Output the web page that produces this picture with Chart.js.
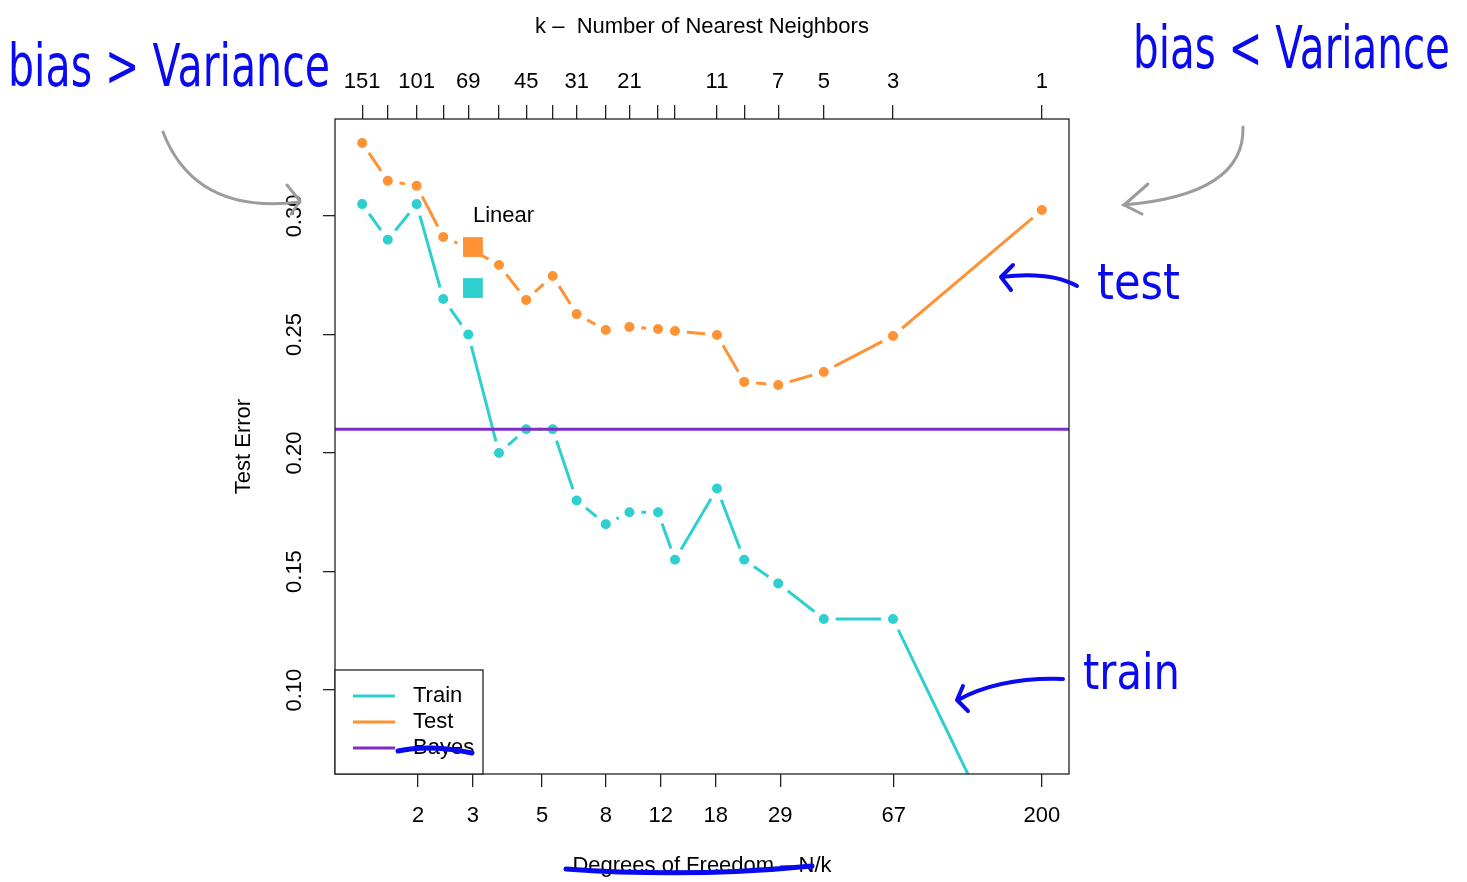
<!DOCTYPE html>
<html>
<head>
<meta charset="utf-8">
<script src="https://cdn.jsdelivr.net/npm/chart.js@4"></script>
<style>
  body { margin: 0; background: #fff; }
  canvas { display: block; }
</style>
</head>
<body>
<canvas id="knn-chart" width="1467" height="882"></canvas>
<script>
// k values used for the nearest neighbour fits (N = 200 training points)
let nTrain = 200;
let kAll = [151, 125, 101, 83, 69, 55, 45, 37, 31, 25, 21, 17, 15, 11, 9, 7, 5, 3, 1];
let kLabeled = [151, 101, 69, 45, 31, 21, 11, 7, 5, 3, 1];

let trainErr = [0.305, 0.29, 0.305, 0.265, 0.25, 0.2, 0.21, 0.21, 0.18, 0.17, 0.175, 0.175, 0.155, 0.185, 0.155, 0.145, 0.13, 0.13, 0];
let testErr = [0.3308, 0.3148, 0.3127, 0.2911, 0.2865, 0.2793, 0.2646, 0.2747, 0.2586, 0.2519, 0.2532, 0.2523, 0.2515, 0.2498, 0.23, 0.2287, 0.2342, 0.2494, 0.3025];

let bayesErr = 0.21;
let linearDof = 3;
let linearTest = 0.2869;
let linearTrain = 0.2696;

let dofTicks = [2, 3, 5, 8, 12, 18, 29, 67, 200];
let errTicks = [0.1, 0.15, 0.2, 0.25, 0.3];

let colors = {
  train: "#2dcfcf",
  test: "#ff9234",
  bayes: "#7e2ec4",
  ink: "#0a0aee",
  pencil: "#9c9c9c",
};

// R style axis range: data range plus 4% on each side (log scale)
let lo = Math.log(nTrain / kAll[0]);
let hi = Math.log(nTrain / kAll[kAll.length - 1]);
let xMin = Math.exp(lo - 0.04 * (hi - lo));
let xMax = Math.exp(hi + 0.04 * (hi - lo));
let yMin = 0.0646;
let yMax = 0.3409;

let font = { family: "Liberation Sans", size: 22 };

function toPoints(values) {
  return values.map((v, i) => ({ x: nTrain / kAll[i], y: v }));
}

function scribble(ctx, text, x, baseline, width, size) {
  ctx.save();
  ctx.font = size + 'px "DejaVu Sans"';
  let w = ctx.measureText(text).width;
  ctx.translate(x, baseline);
  ctx.scale(width / w, 1);
  ctx.fillStyle = colors.ink;
  ctx.textAlign = "left";
  ctx.textBaseline = "alphabetic";
  ctx.fillText(text, 0, 0);
  ctx.restore();
}

function stroke(ctx, color, width, draw) {
  ctx.save();
  ctx.strokeStyle = color;
  ctx.lineWidth = width;
  ctx.lineCap = "round";
  ctx.lineJoin = "round";
  ctx.beginPath();
  draw();
  ctx.stroke();
  ctx.restore();
}

let boxAndLabels = {
  id: "boxAndLabels",
  afterDatasetsDraw(chart) {
    let ctx = chart.ctx;
    let area = chart.chartArea;
    let xs = chart.scales.x;
    let ys = chart.scales.y;

    // plot box
    ctx.save();
    ctx.strokeStyle = "#222";
    ctx.lineWidth = 1.3;
    ctx.strokeRect(area.left, area.top, area.right - area.left, area.bottom - area.top);

    // rotated y tick labels
    ctx.fillStyle = "#000";
    ctx.font = "22px 'Liberation Sans'";
    ctx.textAlign = "center";
    ctx.textBaseline = "middle";
    errTicks.forEach((v) => {
      ctx.save();
      ctx.translate(295, ys.getPixelForValue(v));
      ctx.rotate(-Math.PI / 2);
      ctx.fillText(v.toFixed(2), 0, 0);
      ctx.restore();
    });

    // "Linear" label next to the squares
    ctx.textAlign = "left";
    ctx.fillText("Linear", xs.getPixelForValue(linearDof), ys.getPixelForValue(0.3));

    // legend
    let lx = area.left, ly = 670, lw = 148, lh = area.bottom - 670;
    ctx.fillStyle = "#fff";
    ctx.fillRect(lx, ly, lw, lh);
    ctx.strokeRect(lx, ly, lw, lh);
    let items = [
      ["Train", colors.train],
      ["Test", colors.test],
      ["Bayes", colors.bayes],
    ];
    items.forEach((it, i) => {
      let y = ly + 26 + i * 26;
      ctx.strokeStyle = it[1];
      ctx.lineWidth = 3;
      ctx.beginPath();
      ctx.moveTo(lx + 18, y);
      ctx.lineTo(lx + 60, y);
      ctx.stroke();
      ctx.fillStyle = "#000";
      ctx.fillText(it[0], lx + 78, y);
    });
    ctx.restore();
  },
  afterDraw(chart) {
    let ctx = chart.ctx;

    // handwritten notes
    scribble(ctx, "bias > Variance", 8, 86, 322, 58);
    scribble(ctx, "bias < Variance", 1133, 68, 317, 58);
    scribble(ctx, "test", 1097, 299, 83, 50);
    scribble(ctx, "train", 1083, 689, 97, 50);

    stroke(ctx, colors.ink, 4, () => {
      ctx.moveTo(1077, 286);
      ctx.quadraticCurveTo(1050, 271, 1001, 277);
      ctx.moveTo(1013, 265);
      ctx.lineTo(1001, 277);
      ctx.lineTo(1011, 290);
    });
    stroke(ctx, colors.ink, 4, () => {
      ctx.moveTo(1063, 679);
      ctx.quadraticCurveTo(1000, 677, 958, 700);
      ctx.moveTo(963, 686);
      ctx.lineTo(957, 700);
      ctx.lineTo(968, 711);
    });
    stroke(ctx, colors.pencil, 3, () => {
      ctx.moveTo(163, 132);
      ctx.quadraticCurveTo(195, 215, 300, 202);
      ctx.moveTo(287, 185);
      ctx.lineTo(300, 201);
      ctx.lineTo(291, 214);
    });
    stroke(ctx, colors.pencil, 3, () => {
      ctx.moveTo(1243, 127);
      ctx.quadraticCurveTo(1245, 195, 1123, 205);
      ctx.moveTo(1148, 184);
      ctx.lineTo(1124, 205);
      ctx.lineTo(1142, 214);
    });
    // strike-throughs
    stroke(ctx, colors.ink, 5, () => {
      ctx.moveTo(398, 751);
      ctx.quadraticCurveTo(430, 744, 472, 753);
    });
    stroke(ctx, colors.ink, 5, () => {
      ctx.moveTo(566, 869);
      ctx.quadraticCurveTo(690, 878, 812, 866);
    });
  },
};

let lineStyle = (color) => ({
  borderColor: color,
  borderWidth: 3,
  backgroundColor: color,
  pointBackgroundColor: color,
  pointBorderColor: "#fff",
  pointRadius: 8.5,
  pointBorderWidth: 7,
  tension: 0,
});

new Chart("knn-chart", {
  type: "line",
  data: {
    datasets: [
      {
        label: "Bayes",
        data: [
          { x: xMin, y: bayesErr },
          { x: xMax, y: bayesErr },
        ],
        borderColor: colors.bayes,
        borderWidth: 3,
        pointRadius: 0,
      },
      {
        label: "Linear test",
        data: [{ x: linearDof, y: linearTest }],
        showLine: false,
        pointStyle: "rect",
        pointRadius: 14,
        pointBorderWidth: 0,
        pointBackgroundColor: colors.test,
      },
      {
        label: "Linear train",
        data: [{ x: linearDof, y: linearTrain }],
        showLine: false,
        pointStyle: "rect",
        pointRadius: 14,
        pointBorderWidth: 0,
        pointBackgroundColor: colors.train,
      },
      Object.assign({ label: "Test", data: toPoints(testErr) }, lineStyle(colors.test)),
      Object.assign({ label: "Train", data: toPoints(trainErr) }, lineStyle(colors.train)),
    ],
  },
  options: {
    responsive: false,
    animation: false,
    events: [],
    layout: { padding: { left: 225, right: 398, top: 0, bottom: 0 } },
    plugins: {
      legend: { display: false },
      tooltip: { enabled: false },
    },
    scales: {
      x: {
        type: "logarithmic",
        position: "bottom",
        min: xMin,
        max: xMax,
        afterFit: (s) => {
          s.height = 108;
        },
        afterBuildTicks: (s) => {
          s.ticks = dofTicks.map((v) => ({ value: v }));
        },
        grid: { drawOnChartArea: false, drawTicks: true, tickLength: 13, color: "#222", lineWidth: 1.3 },
        border: { display: false },
        ticks: {
          autoSkip: false,
          maxRotation: 0,
          minRotation: 0,
          padding: 16,
          color: "#000",
          font: font,
          callback: (v) => String(v),
        },
        title: {
          display: true,
          text: "Degrees of Freedom \u2013 N/k",
          color: "#000",
          font: font,
          padding: { top: 0, bottom: 3 },
        },
      },
      x2: {
        type: "logarithmic",
        position: "top",
        min: xMin,
        max: xMax,
        afterFit: (s) => {
          s.height = 119;
        },
        afterBuildTicks: (s) => {
          s.ticks = kAll.map((k) => ({ value: nTrain / k }));
        },
        grid: { drawOnChartArea: false, drawTicks: true, tickLength: 14, color: "#222", lineWidth: 1.3 },
        border: { display: false },
        ticks: {
          autoSkip: false,
          maxRotation: 0,
          minRotation: 0,
          padding: 10,
          color: "#000",
          font: font,
          callback: (v, i) => (kLabeled.includes(kAll[i]) ? String(kAll[i]) : ""),
        },
        title: {
          display: true,
          text: "k \u2013  Number of Nearest Neighbors",
          color: "#000",
          font: font,
          padding: { top: 14, bottom: 0 },
        },
      },
      y: {
        type: "linear",
        position: "left",
        min: yMin,
        max: yMax,
        afterFit: (s) => {
          s.width = 110;
        },
        afterBuildTicks: (s) => {
          s.ticks = errTicks.map((v) => ({ value: v }));
        },
        grid: { drawOnChartArea: false, drawTicks: true, tickLength: 12, color: "#222", lineWidth: 1.3 },
        border: { display: false },
        ticks: { display: false },
        title: {
          display: true,
          text: "Test Error",
          color: "#000",
          font: font,
          padding: { top: 6, bottom: 0 },
        },
      },
    },
  },
  plugins: [boxAndLabels],
});
</script>
</body>
</html>
